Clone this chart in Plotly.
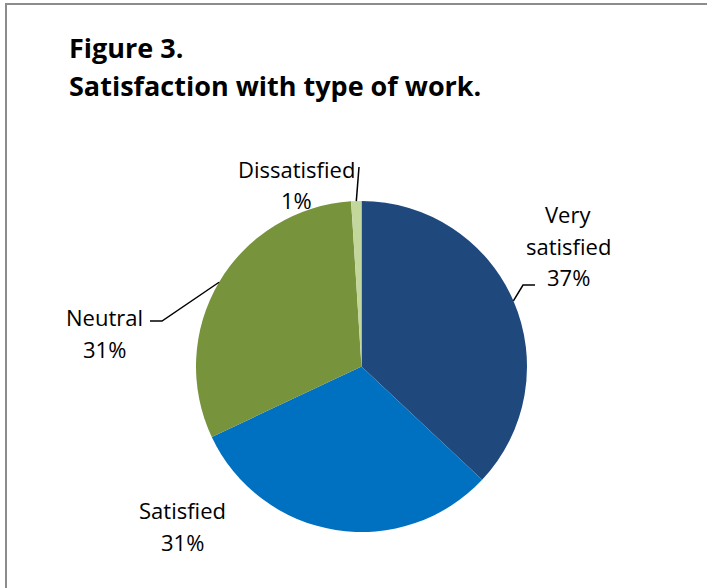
import math
import plotly.graph_objects as go

# Survey responses: satisfaction with type of work (percent)
categories = ["Very satisfied", "Satisfied", "Neutral", "Dissatisfied"]
values = [37, 31, 31, 1]
colors = ["#1F497D", "#0070C0", "#77933C", "#C3D69B"]
label_lines = [["Very", "satisfied"], ["Satisfied"], ["Neutral"], ["Dissatisfied"]]

W, H = 707, 588
CX, CY, R = 361.5, 366.5, 165.5  # pie centre and radius in pixels

def px(x):
    return x / W

def py(y):
    return 1 - y / H

FONT = "'Open Sans', Lato, Arial, sans-serif"
NOLIG = "\u200c"  # keeps "f" and "i" as separate glyphs

fig = go.Figure(go.Pie(
    labels=categories,
    values=values,
    marker=dict(colors=colors, line=dict(width=0)),
    sort=False,
    direction="clockwise",
    rotation=0,
    textinfo="none",
    hoverinfo="label+percent",
    showlegend=False,
    domain=dict(x=[px(CX - R), px(CX + R)], y=[py(CY + R), py(CY - R)]),
))

# mid-angle edge point of each slice (pixels), measured clockwise from 12 o'clock
total = sum(values)
edge = []
acc = 0
for v in values:
    mid = (acc + v / 2) / total * 2 * math.pi
    edge.append((CX + R * math.sin(mid), CY - R * math.cos(mid)))
    acc += v

# first-line centre of each label block (pixels), line pitch, and leader-line elbows
label_pos = {
    "Very satisfied": (568, 214),
    "Satisfied": (182, 510),
    "Neutral": (104, 317),
    "Dissatisfied": (296, 169),
}
LINE_PITCH = 31.5
leaders = {
    "Very satisfied": [(535, 285), (523, 285)],
    "Neutral": [(150, 321), (162, 321)],
    "Dissatisfied": [(359, 167)],
}

annotations = []
for cat, v, lines in zip(categories, values, label_lines):
    x, y0 = label_pos[cat]
    for k, line in enumerate(lines + [f"{v}%"]):
        annotations.append(dict(
            x=px(x), y=py(y0 + k * LINE_PITCH), xref="paper", yref="paper",
            text=line.replace("fi", "f" + NOLIG + "i"),
            showarrow=False, xanchor="center", yanchor="middle",
            font=dict(family=FONT, size=22, color="#000000"),
        ))

# figure title
for text, y in [("Figure 3.", 47), ("Satisfaction with type of work.", 85)]:
    annotations.append(dict(
        x=px(67), y=py(y), xref="paper", yref="paper", text=f"<b>{text}</b>",
        showarrow=False, xanchor="left", yanchor="middle",
        font=dict(family=FONT, size=27, color="#000000"),
    ))

shapes = []
for i, cat in enumerate(categories):
    if cat not in leaders:
        continue
    pts = leaders[cat] + [edge[i]]
    path = "M " + " L ".join(f"{px(a):.5f},{py(b):.5f}" for a, b in pts)
    shapes.append(dict(type="path", xref="paper", yref="paper", path=path,
                       line=dict(color="#000000", width=1.5)))

# chart-area frame
shapes.append(dict(type="rect", xref="paper", yref="paper",
                   x0=px(6), x1=1.05, y0=-0.05, y1=py(4),
                   line=dict(color="#8C8C8C", width=2), layer="above"))

fig.update_layout(
    width=W, height=H,
    margin=dict(l=0, r=0, t=0, b=0),
    paper_bgcolor="#FFFFFF",
    plot_bgcolor="#FFFFFF",
    annotations=annotations,
    shapes=shapes,
)

fig.write_html("out.html")
